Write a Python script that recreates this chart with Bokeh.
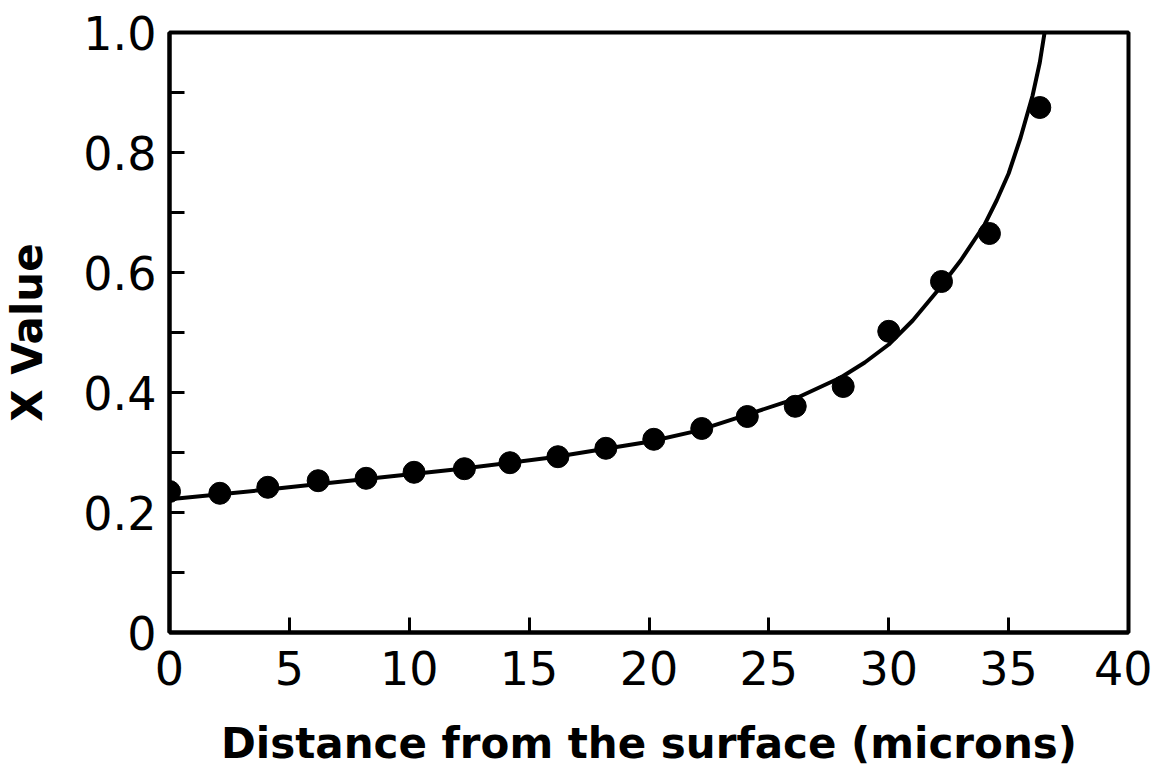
from bokeh.plotting import figure
from bokeh.models import Range1d, FixedTicker
from bokeh.embed import file_html
from bokeh.resources import INLINE

# measured points
dist = [0, 2.1, 4.1, 6.2, 8.2, 10.2, 12.3, 14.2, 16.2, 18.2, 20.2, 22.2, 24.1, 26.1, 28.1, 30.0, 32.2, 34.2, 36.3]
xval = [0.235, 0.232, 0.242, 0.253, 0.257, 0.267, 0.273, 0.283, 0.293, 0.307, 0.322, 0.340, 0.360, 0.377, 0.410, 0.502, 0.585, 0.665, 0.875]

# fitted curve
curve_x = [0, 4, 8, 12, 16, 20, 22, 24, 26, 28, 29, 30, 31, 32, 33, 34, 34.5, 35, 35.5, 36, 36.3, 36.5]
curve_y = [0.222, 0.238, 0.255, 0.272, 0.292, 0.318, 0.336, 0.362, 0.388, 0.425, 0.450, 0.480, 0.520, 0.568, 0.620, 0.680, 0.720, 0.765, 0.825, 0.895, 0.950, 1.0]

x_ticks = [0, 5, 10, 15, 20, 25, 30, 35, 40]
y_ticks = [0, 0.2, 0.4, 0.6, 0.8, 1.0]
y_minor = [0.1, 0.3, 0.5, 0.7, 0.9]
y_labels = {0: "0", 0.2: "0.2", 0.4: "0.4", 0.6: "0.6", 0.8: "0.8", 1.0: "1.0"}

FONT = "DejaVu Sans"

p = figure(width=1152, height=770, output_backend="svg", toolbar_location=None,
           x_range=Range1d(0, 40), y_range=Range1d(0, 1))
p.min_border_left = 161
p.min_border_right = 24
p.min_border_top = 32
p.min_border_bottom = 137

p.grid.visible = False
p.background_fill_color = "white"
p.border_fill_color = "white"
p.outline_line_color = "black"
p.outline_line_width = 4

p.line(curve_x, curve_y, line_color="black", line_width=4)
p.scatter(dist, xval, size=22, color="black")

p.xaxis.ticker = FixedTicker(ticks=x_ticks)
p.yaxis.ticker = FixedTicker(ticks=y_ticks, minor_ticks=y_minor)
p.yaxis.major_label_overrides = y_labels

for ax in (p.xaxis, p.yaxis):
    ax.axis_line_width = 4
    ax.axis_line_color = "black"
    ax.major_tick_in = 15
    ax.major_tick_out = 0
    ax.major_tick_line_width = 3
    ax.major_label_text_font = FONT
    ax.major_label_text_font_size = "46px"
    ax.major_label_text_color = "black"
    ax.axis_label_text_font = FONT
    ax.axis_label_text_font_style = "bold"
    ax.axis_label_text_font_size = "42px"
    ax.axis_label_text_color = "black"

p.xaxis.minor_tick_line_color = None
p.yaxis.minor_tick_in = 15
p.yaxis.minor_tick_out = 0
p.yaxis.minor_tick_line_width = 3
p.xaxis.major_label_standoff = 18
p.yaxis.major_label_standoff = 13

p.xaxis.axis_label = "Distance from the surface (microns)"
p.yaxis.axis_label = "X Value"
p.xaxis.axis_label_standoff = 31
p.yaxis.axis_label_standoff = 28

open("out.html", "w").write(file_html(p, INLINE))
